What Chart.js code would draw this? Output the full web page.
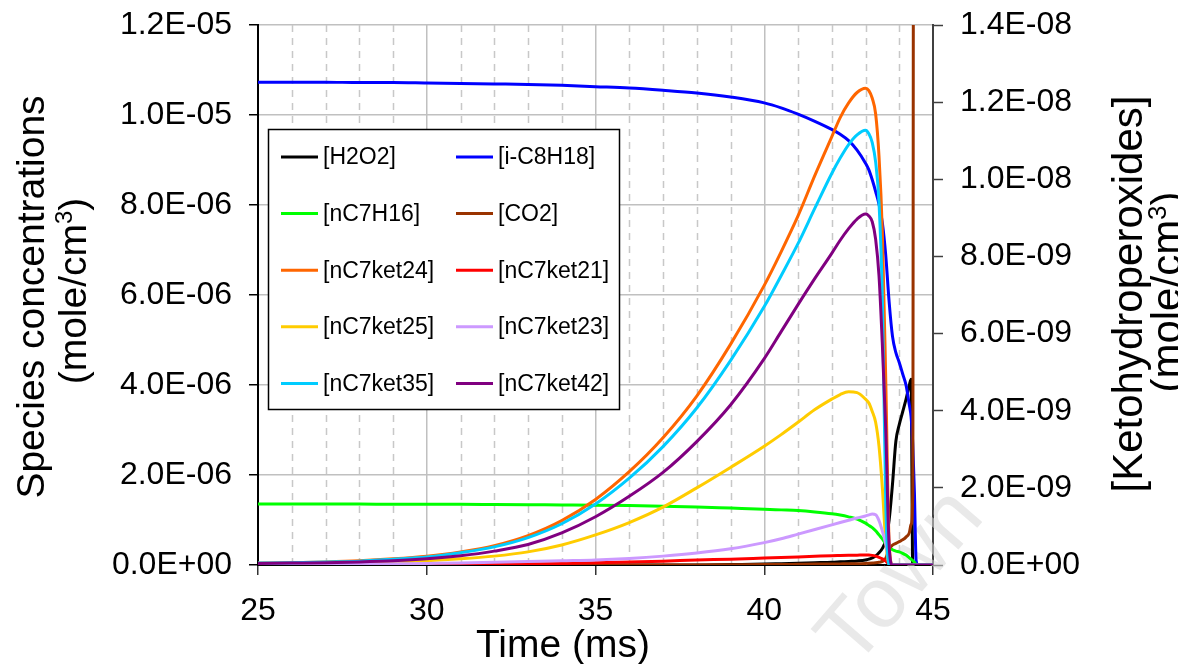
<!DOCTYPE html>
<html>
<head>
<meta charset="utf-8">
<script src="https://cdn.jsdelivr.net/npm/chart.js@4.4.0/dist/chart.umd.min.js"></script>
<style>
  html, body { margin: 0; padding: 0; background: #ffffff; }
  #wrap { width: 1178px; height: 664px; }
</style>
</head>
<body>
<div id="wrap"><canvas id="canvasChart" width="1178" height="664"></canvas></div>
<script>
// time axis (ms)
var time = [25, 26, 27, 28, 29, 30, 31, 32, 33, 34,
  35, 36, 37, 38, 39, 40,
  40.5, 41, 41.5, 42,
  42.25, 42.5, 42.75, 43,
  43.1, 43.2, 43.3, 43.4, 43.5, 43.6, 43.7, 43.8, 43.9, 44,
  44.1, 44.2, 44.3, 44.35, 44.4, 44.45, 44.5, 44.55, 44.6, 45];

// left axis species, in 1E-06 mole/cm3
var h2o2 = [0, 0, 0, 0, 0, 0, 0, 0, 0, 0,
  0, 0, 0, 0, 0.01, 0.02,
  0.03, 0.04, 0.05, 0.06,
  0.07, 0.08, 0.09, 0.11,
  0.13, 0.16, 0.2, 0.27, 0.37, 0.55, 1.0, 1.8, 2.75, 3.12,
  3.4, 3.68, 4.0, 4.13, 0, 0, 0, 0, 0, 0];
var ic8h18 = [10.73, 10.73, 10.73, 10.72, 10.72, 10.71, 10.70, 10.69, 10.68, 10.66,
  10.63, 10.60, 10.55, 10.49, 10.40, 10.27,
  10.16, 10.02, 9.86, 9.68,
  9.57, 9.43, 9.22, 8.93,
  8.78, 8.56, 8.3, 8.02, 7.6, 6.88, 5.85, 5.08, 4.72, 4.5,
  4.25, 4.0, 3.55, 3.3, 2.7, 1.6, 0.1, 0, 0, 0];
var nc7h16 = [1.355, 1.355, 1.355, 1.355, 1.35, 1.35, 1.35, 1.345, 1.34, 1.335,
  1.33, 1.32, 1.305, 1.29, 1.265, 1.24,
  1.225, 1.21, 1.18, 1.14,
  1.11, 1.07, 1.02, 0.93,
  0.88, 0.83, 0.76, 0.67, 0.58, 0.47, 0.39, 0.34, 0.31, 0.29,
  0.26, 0.22, 0.16, 0.13, 0.1, 0.06, 0.02, 0, 0, 0];
var co2 = [0, 0, 0, 0, 0, 0, 0, 0, 0, 0,
  0, 0, 0, 0, 0.005, 0.01,
  0.01, 0.015, 0.02, 0.02,
  0.025, 0.03, 0.03, 0.035,
  0.04, 0.045, 0.05, 0.06, 0.08, 0.15, 0.36, 0.44, 0.48, 0.52,
  0.56, 0.62, 0.72, 0.9, 1.6, 40, 40, 40, 40, 40];

// right axis ketohydroperoxides, in 1E-09 mole/cm3
var ket24 = [0.05, 0.06, 0.08, 0.11, 0.16, 0.23, 0.34, 0.5, 0.76, 1.15,
  1.7, 2.42, 3.3, 4.38, 5.72, 7.25,
  8.12, 9.05, 10.1, 11.1,
  11.6, 11.98, 12.25, 12.36,
  12.3, 12.1, 11.7, 10.6, 8.6, 4.8, 0.6, 0, 0, 0,
  0, 0, 0, 0, 0, 0, 0, 0, 0, 0];
var ket21 = [0, 0, 0, 0, 0.005, 0.01, 0.015, 0.02, 0.03, 0.04,
  0.06, 0.08, 0.1, 0.13, 0.15, 0.18,
  0.195, 0.21, 0.225, 0.24,
  0.245, 0.25, 0.255, 0.26,
  0.26, 0.25, 0.23, 0.2, 0.16, 0.1, 0.02, 0, 0, 0,
  0, 0, 0, 0, 0, 0, 0, 0, 0, 0];
var ket25 = [0.02, 0.03, 0.04, 0.06, 0.08, 0.11, 0.16, 0.23, 0.34, 0.52,
  0.78, 1.1, 1.5, 2.0, 2.53, 3.08,
  3.38, 3.7, 4.03, 4.3,
  4.42, 4.49, 4.47, 4.3,
  4.2, 3.98, 3.7, 3.08, 2.0, 0.6, 0.03, 0, 0, 0,
  0, 0, 0, 0, 0, 0, 0, 0, 0, 0];
var ket23 = [0, 0.005, 0.01, 0.02, 0.03, 0.04, 0.05, 0.07, 0.09, 0.11,
  0.13, 0.17, 0.23, 0.31, 0.42, 0.58,
  0.68, 0.8, 0.92, 1.04,
  1.1, 1.16, 1.22, 1.27,
  1.3, 1.32, 1.3, 1.15, 0.88, 0.55, 0.1, 0, 0, 0,
  0, 0, 0, 0, 0, 0, 0, 0, 0, 0];
var ket35 = [0.05, 0.06, 0.08, 0.1, 0.15, 0.21, 0.32, 0.47, 0.71, 1.07,
  1.58, 2.25, 3.07, 4.07, 5.3, 6.7,
  7.5, 8.33, 9.25, 10.15,
  10.55, 10.9, 11.15, 11.27,
  11.18, 10.95, 10.45, 9.4, 6.9, 1.6, 0, 0, 0, 0,
  0, 0, 0, 0, 0, 0, 0, 0, 0, 0];
var ket42 = [0.04, 0.05, 0.06, 0.08, 0.11, 0.16, 0.24, 0.36, 0.53, 0.83,
  1.25, 1.78, 2.4, 3.2, 4.15, 5.35,
  6.05, 6.75, 7.43, 8.08,
  8.42, 8.72, 8.97, 9.1,
  9.05, 8.9, 8.45, 7.5, 5.7, 3.5, 0.5, 0, 0, 0,
  0, 0, 0, 0, 0, 0, 0, 0, 0, 0];

// ticks
var timeTicks = [25, 30, 35, 40, 45];
var timeMinor = [26, 27, 28, 29, 31, 32, 33, 34, 36, 37, 38, 39, 41, 42, 43, 44];
var leftTicks = [0, 2e-6, 4e-6, 6e-6, 8e-6, 1e-5, 1.2e-5];
var rightTicks = [0, 2e-9, 4e-9, 6e-9, 8e-9, 1e-8, 1.2e-8, 1.4e-8];

var names = ['[H2O2]', '[i-C8H18]', '[nC7H16]', '[CO2]', '[nC7ket24]',
  '[nC7ket21]', '[nC7ket25]', '[nC7ket23]', '[nC7ket35]', '[nC7ket42]'];
var colors = ['#000000', '#0000ff', '#00ff00', '#993300', '#ff6600',
  '#ff0000', '#ffcc00', '#cc99ff', '#00ccff', '#800080'];
var values = [h2o2, ic8h18, nc7h16, co2, ket24, ket21, ket25, ket23, ket35, ket42];
var axes = ['y', 'y', 'y', 'y', 'y2', 'y2', 'y2', 'y2', 'y2', 'y2'];

var FONT = '"Liberation Sans", Arial, sans-serif';

function sci(v) {
  if (v === 0) return '0.0E+00';
  var s = v.toExponential(1).toUpperCase().split('E');
  var e = parseInt(s[1], 10);
  return s[0] + 'E' + (e < 0 ? '-' : '+') + (Math.abs(e) < 10 ? '0' : '') + Math.abs(e);
}

var datasets = [];
for (var i = 0; i < names.length; i++) {
  var unit = axes[i] === 'y' ? 1e-6 : 1e-9;
  var pts = [];
  for (var j = 0; j < time.length; j++) {
    pts.push({ x: time[j], y: values[i][j] * unit });
  }
  datasets.push({
    label: names[i],
    data: pts,
    yAxisID: axes[i],
    borderColor: colors[i],
    backgroundColor: colors[i],
    borderWidth: 3,
    pointRadius: 0,
    fill: false,
    cubicInterpolationMode: 'monotone',
    order: names.length - i
  });
}

// dashed minor grid + watermark, under the lines
var backPlugin = {
  id: 'backPlugin',
  beforeDatasetsDraw: function (chart) {
    var ctx = chart.ctx;
    var a = chart.chartArea;
    var xs = chart.scales.x;
    ctx.save();
    ctx.strokeStyle = '#c8c8c8';
    ctx.lineWidth = 1.5;
    ctx.setLineDash([7, 6]);
    timeMinor.forEach(function (t) {
      var px = Math.round(xs.getPixelForValue(t)) + 0.5;
      ctx.beginPath();
      ctx.moveTo(px, a.bottom);
      ctx.lineTo(px, a.top);
      ctx.stroke();
    });
    ctx.setLineDash([]);
    ctx.translate(902, 578);
    ctx.rotate(-49 * Math.PI / 180);
    ctx.fillStyle = 'rgba(215,215,215,0.55)';
    ctx.font = '86px ' + FONT;
    ctx.textAlign = 'center';
    ctx.textBaseline = 'middle';
    ctx.fillText('Town', 0, 0);
    ctx.restore();
  }
};

function unitsText(ctx, cx, cy, size) {
  // "(mole/cm3)" with superscript, rotated to read bottom to top
  var sup = Math.round(size * 0.62);
  ctx.save();
  ctx.translate(cx, cy);
  ctx.rotate(-Math.PI / 2);
  ctx.textBaseline = 'alphabetic';
  ctx.textAlign = 'left';
  ctx.font = size + 'px ' + FONT;
  var wa = ctx.measureText('(mole/cm').width;
  var wc = ctx.measureText(')').width;
  ctx.font = sup + 'px ' + FONT;
  var wb = ctx.measureText('3').width;
  var x = -(wa + wb + wc) / 2;
  ctx.font = size + 'px ' + FONT;
  ctx.fillText('(mole/cm', x, 0);
  ctx.font = sup + 'px ' + FONT;
  ctx.fillText('3', x + wa, -size * 0.36);
  ctx.font = size + 'px ' + FONT;
  ctx.fillText(')', x + wa + wb, 0);
  ctx.restore();
}

function rotText(ctx, txt, cx, cy, size) {
  ctx.save();
  ctx.translate(cx, cy);
  ctx.rotate(-Math.PI / 2);
  ctx.font = size + 'px ' + FONT;
  ctx.textAlign = 'center';
  ctx.textBaseline = 'alphabetic';
  ctx.fillText(txt, 0, 0);
  ctx.restore();
}

// legend box and axis titles
var frontPlugin = {
  id: 'frontPlugin',
  afterDraw: function (chart) {
    var ctx = chart.ctx;
    ctx.save();
    ctx.fillStyle = '#ffffff';
    ctx.fillRect(268, 129, 352, 281);
    ctx.strokeStyle = '#000000';
    ctx.lineWidth = 1.5;
    ctx.strokeRect(268.5, 129.5, 351, 280);
    ctx.font = '23px ' + FONT;
    ctx.textBaseline = 'middle';
    ctx.textAlign = 'left';
    for (var k = 0; k < names.length; k++) {
      var col = k % 2;
      var row = Math.floor(k / 2);
      var y = 157 + row * 56.6;
      var x0 = col === 0 ? 281 : 456;
      ctx.strokeStyle = colors[k];
      ctx.lineWidth = 3;
      ctx.beginPath();
      ctx.moveTo(x0, y);
      ctx.lineTo(x0 + 37, y);
      ctx.stroke();
      ctx.fillStyle = '#000000';
      ctx.fillText(names[k], x0 + 42, y + 1);
    }

    ctx.fillStyle = '#000000';
    ctx.font = '39px ' + FONT;
    ctx.textAlign = 'center';
    ctx.textBaseline = 'alphabetic';
    ctx.fillText('Time (ms)', 563, 657);

    rotText(ctx, 'Species concentrations', 44, 297, 39);
    unitsText(ctx, 86, 291, 39);
    rotText(ctx, '[Ketohydroperoxides]', 1142, 294, 42);
    unitsText(ctx, 1181, 292, 42);
    ctx.restore();
  }
};

var canvas = document.getElementById('canvasChart');
var chart = new Chart(canvas, {
  type: 'line',
  data: { datasets: datasets },
  plugins: [backPlugin, frontPlugin],
  options: {
    responsive: false,
    animation: false,
    devicePixelRatio: 1,
    layout: { padding: { top: 25, left: 0, right: 0, bottom: 0 } },
    plugins: {
      legend: { display: false },
      tooltip: { enabled: false },
      title: { display: false }
    },
    scales: {
      x: {
        type: 'linear',
        position: 'bottom',
        min: 25,
        max: 45,
        afterBuildTicks: function (scale) {
          scale.ticks = timeTicks.map(function (v) { return { value: v }; });
        },
        afterFit: function (scale) {
          scale.height = 99;
          scale.paddingLeft = 0;
          scale.paddingRight = 0;
        },
        ticks: {
          autoSkip: false,
          maxRotation: 0,
          padding: 17,
          color: '#000000',
          font: { size: 32, family: FONT }
        },
        grid: {
          color: '#c0c0c0',
          lineWidth: 1.5,
          tickLength: 10,
          tickColor: '#333333',
          tickWidth: 1.5
        },
        border: { color: '#000000', width: 2 }
      },
      y: {
        type: 'linear',
        position: 'left',
        min: 0,
        max: 1.2e-5,
        afterBuildTicks: function (scale) {
          scale.ticks = leftTicks.map(function (v) { return { value: v }; });
        },
        afterFit: function (scale) {
          scale.width = 258;
          scale.paddingTop = 0;
          scale.paddingBottom = 0;
        },
        ticks: {
          padding: 17,
          color: '#000000',
          font: { size: 32, family: FONT },
          callback: function (v) { return sci(v); }
        },
        grid: {
          color: '#c0c0c0',
          lineWidth: 1.5,
          tickLength: 9,
          tickColor: '#000000',
          tickWidth: 1.5
        },
        border: { color: '#000000', width: 2 }
      },
      y2: {
        type: 'linear',
        position: 'right',
        min: 0,
        max: 1.4e-8,
        afterBuildTicks: function (scale) {
          scale.ticks = rightTicks.map(function (v) { return { value: v }; });
        },
        afterFit: function (scale) {
          scale.width = 245;
          scale.paddingTop = 0;
          scale.paddingBottom = 0;
        },
        ticks: {
          padding: 17,
          color: '#000000',
          font: { size: 32, family: FONT },
          callback: function (v) { return sci(v); }
        },
        grid: {
          drawOnChartArea: false,
          tickLength: 10,
          tickColor: '#404040',
          tickWidth: 1.5
        },
        border: { color: '#404040', width: 2 }
      }
    }
  }
});
</script>
</body>
</html>
